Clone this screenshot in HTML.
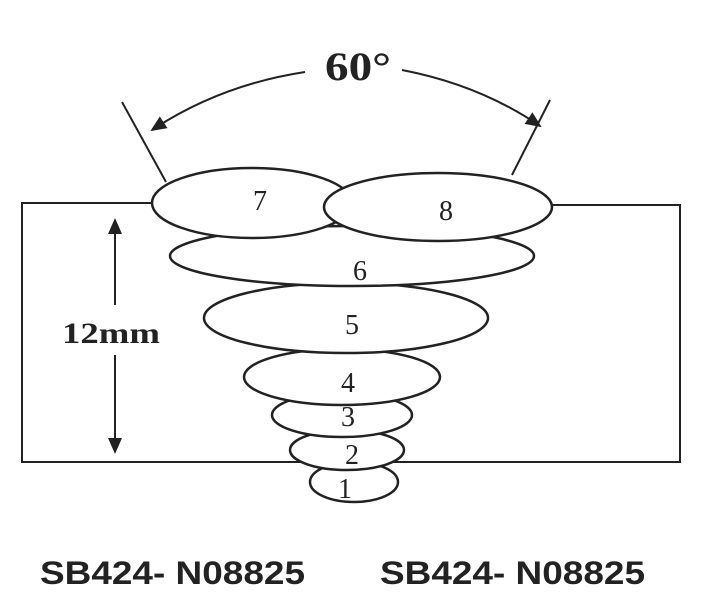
<!DOCTYPE html>
<html><head><meta charset="utf-8"><style>html,body{margin:0;padding:0;background:#fff}svg{display:block}</style></head>
<body>
<svg width="702" height="592" viewBox="0 0 702 592">
<defs><marker id="ah2" markerWidth="16" markerHeight="14" refX="14" refY="7" orient="auto" markerUnits="userSpaceOnUse"><path d="M0,0 L16,7 L0,14 Z" fill="#222"/></marker></defs>
<g stroke="#222" stroke-width="2" fill="none">
<polyline points="155,203 22,203 22,462 354,462"/>
<polyline points="550,205 680,205 680,462 354,462"/>
<line x1="122" y1="102" x2="166" y2="182"/>
<line x1="550" y1="100" x2="512" y2="175"/>
<path d="M305,72 Q220,85 152,130" marker-end="url(#ah2)"/>
<path d="M402,70 Q480,85 540,126" marker-end="url(#ah2)"/>
<line x1="115" y1="305" x2="115" y2="220" marker-end="url(#ah2)"/>
<line x1="115" y1="355" x2="115" y2="452" marker-end="url(#ah2)"/>
</g>
<g stroke="#222" stroke-width="2.5" fill="#fff">
<ellipse cx="354" cy="482" rx="44" ry="20"/>
<ellipse cx="347" cy="450" rx="57" ry="20"/>
<ellipse cx="342" cy="415" rx="70" ry="22"/>
<ellipse cx="342" cy="377" rx="98" ry="28"/>
<ellipse cx="346" cy="318" rx="142" ry="35"/>
<ellipse cx="352" cy="256" rx="182" ry="30"/>
<ellipse cx="252" cy="203" rx="100" ry="35"/>
<ellipse cx="438" cy="207" rx="114" ry="34"/>
</g>
<g font-family="Liberation Serif, serif" font-size="28" fill="#222" text-anchor="middle">
<text x="260" y="210">7</text>
<text x="446" y="220">8</text>
<text x="360" y="280">6</text>
<text x="352" y="334">5</text>
<text x="348" y="392">4</text>
<text x="348" y="426">3</text>
<text x="352" y="464">2</text>
<text x="345" y="498">1</text>
</g>
<g font-family="Liberation Serif, serif" fill="#222" font-weight="bold">
<text x="325" y="80" font-size="40" textLength="66" lengthAdjust="spacingAndGlyphs">60°</text>
<text x="62" y="343" font-size="30" textLength="98" lengthAdjust="spacingAndGlyphs">12mm</text>
</g>
<g font-family="Liberation Sans, sans-serif" font-size="32" font-weight="bold" fill="#222">
<text x="40" y="584" textLength="265" lengthAdjust="spacingAndGlyphs">SB424- N08825</text>
<text x="380" y="584" textLength="265" lengthAdjust="spacingAndGlyphs">SB424- N08825</text>
</g>
</svg>
</body></html>
